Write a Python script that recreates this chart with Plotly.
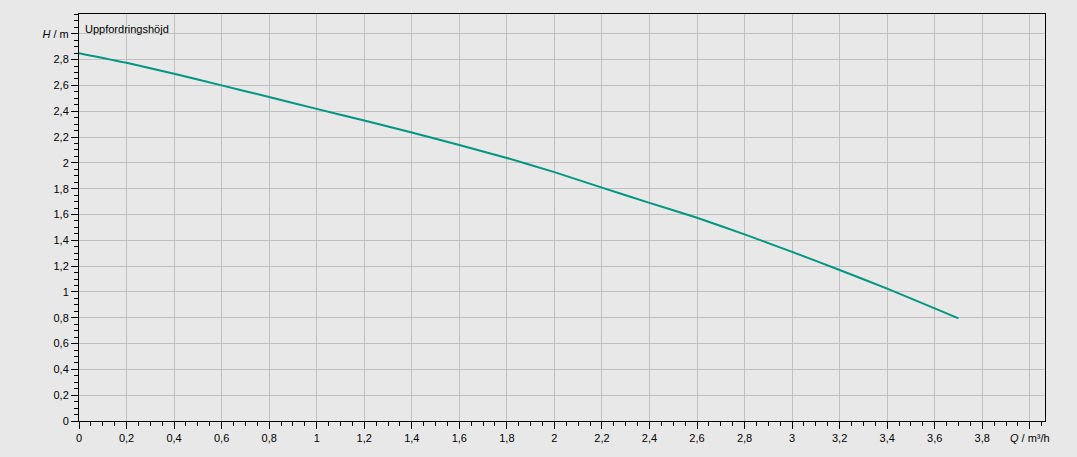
import plotly.graph_objects as go

q_values = [0.0, 0.2, 0.4, 0.6, 0.8, 1.0, 1.2, 1.4, 1.6, 1.8, 2.0, 2.2, 2.4, 2.6, 2.8, 3.0, 3.2, 3.4, 3.6, 3.7]
h_values = [2.85, 2.775, 2.69, 2.60, 2.51, 2.418, 2.328, 2.235, 2.138, 2.038, 1.928, 1.808, 1.69, 1.574, 1.446, 1.31, 1.17, 1.025, 0.872, 0.795]

x_tickvals = [0, 0.2, 0.4, 0.6, 0.8, 1, 1.2, 1.4, 1.6, 1.8, 2, 2.2, 2.4, 2.6, 2.8, 3, 3.2, 3.4, 3.6, 3.8, 4.0]
x_ticktext = ["0", "0,2", "0,4", "0,6", "0,8", "1", "1,2", "1,4", "1,6", "1,8", "2", "2,2", "2,4", "2,6", "2,8", "3", "3,2", "3,4", "3,6", "3,8", "<i>Q</i> / m³/h"]
y_tickvals = [0, 0.2, 0.4, 0.6, 0.8, 1, 1.2, 1.4, 1.6, 1.8, 2, 2.2, 2.4, 2.6, 2.8, 3.0]
y_ticktext = ["0", "0,2", "0,4", "0,6", "0,8", "1", "1,2", "1,4", "1,6", "1,8", "2", "2,2", "2,4", "2,6", "2,8", "<i>H</i> / m"]
series_label = "Uppfordringshöjd"

bg = "#e8e8e8"
grid = "#c0c0c0"
font = dict(family="Liberation Sans, Arial, sans-serif", size=11, color="#000000")

fig = go.Figure()
fig.add_trace(go.Scatter(
    x=q_values, y=h_values, mode="lines",
    line=dict(color="#009682", width=2, shape="spline", smoothing=0.5),
    hoverinfo="skip", showlegend=False,
))

axis_common = dict(
    showline=True, linecolor="#000000", linewidth=1, mirror=True,
    showgrid=True, gridcolor=grid, gridwidth=1,
    zeroline=False,
    ticks="outside", ticklen=7, tickwidth=1, tickcolor="#000000",
    tickfont=font, tickmode="array",
    minor=dict(dtick=0.05, tick0=0, ticks="outside", ticklen=4, tickwidth=1,
               tickcolor="#000000", showgrid=False),
)

fig.update_xaxes(range=[0, 4.064], tickvals=x_tickvals, ticktext=x_ticktext, **axis_common)
fig.update_yaxes(range=[0, 3.153], tickvals=y_tickvals, ticktext=y_ticktext, **axis_common)

fig.add_annotation(
    x=0, y=1, xref="paper", yref="paper", xanchor="left", yanchor="top",
    xshift=4, yshift=-7, text=series_label, showarrow=False, font=font,
)

fig.update_layout(
    width=1077, height=457,
    margin=dict(l=79, r=32, t=14, b=36),
    paper_bgcolor=bg, plot_bgcolor=bg,
    font=font,
)

fig.write_html(
    "out.html",
    config={"displayModeBar": False, "staticPlot": True},
    post_script="document.body.style.margin='0';document.body.style.padding='0';document.body.style.background='#e8e8e8';",
)
